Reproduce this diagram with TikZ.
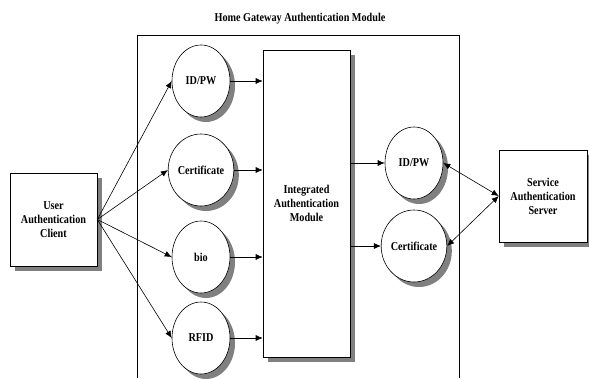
\documentclass[tikz,border=0pt]{standalone}
\usepackage{fontspec}
\newfontfamily\lblfont[FakeStretch=0.85]{Liberation Serif}
\usepackage{tikz}
\usetikzlibrary{arrows.meta}
\usetikzlibrary{positioning,shapes.geometric,shadows}

\begin{document}
\begin{tikzpicture}[
		x=1pt,y=-1pt,
		every node/.style={font=\lblfont\bfseries\fontsize{12}{14}\selectfont},
		MyShadow/.style={drop shadow={shadow xshift=5pt,shadow yshift=-5pt,fill=black!50,opacity=1}},
		MyBoxes/.style={rectangle,draw=black,fill=white,line width=0.6pt,align=center,inner sep=0pt,MyShadow},
		MyCircles/.style={ellipse,draw=black,fill=white,line width=0.6pt,inner sep=0pt,minimum width=58pt,minimum height=72pt,MyShadow},
		Links/.style={draw=black,line width=0.6pt,-{Latex[length=7pt,width=6pt]}},
		BothLinks/.style={draw=black,line width=0.6pt,{Latex[length=7pt,width=6pt]}-{Latex[length=7pt,width=6pt]}}
		]
		
		\useasboundingbox (0,0) rectangle (589,378);
		
		% gateway frame, open at the bottom
		\node (title) at (300,19) {Home Gateway Authentication Module};
		\draw[line width=0.6pt] (137,378)--(137,35)--(459,35)--(459,378);
		
		\node[MyBoxes, minimum width=87pt, minimum height=93pt] (client) at (53.5,219.5) {User\\Authentication\\Client};
		\node[MyBoxes, minimum width=87pt, minimum height=307pt] (integ) at (306.5,203.5) {Integrated\\Authentication\\Module};
		\node[MyBoxes, minimum width=88pt, minimum height=92pt] (server) at (543,196) {Service\\Authentication\\Server};
		
		\node[MyCircles] (idpw) at (201,81) {ID/PW};
		\node[MyCircles] (cert) at (201,170) {Certificate};
		\node[MyCircles] (bio) at (201,257) {bio};
		\node[MyCircles] (rfid) at (201,338) {RFID};
		
		\node[MyCircles] (sidpw) at (414,163) {ID/PW};
		\node[MyCircles] (scert) at (414,246) {Certificate};
		
		\foreach \m in {idpw,cert,bio,rfid}{
			\draw[Links] (client.east)--(\m.west);
			\draw[Links] (\m.east)--(integ.west |- \m.east);
		}
		
		\draw[Links] (integ.east |- sidpw.west)--(sidpw.west);
		\draw[Links] (integ.east |- scert.west)--(scert.west);
		
		\draw[BothLinks] (sidpw.east)--(server.west);
		\draw[BothLinks] (scert.east)--(server.west);
		
		\end{tikzpicture}
\end{document}
